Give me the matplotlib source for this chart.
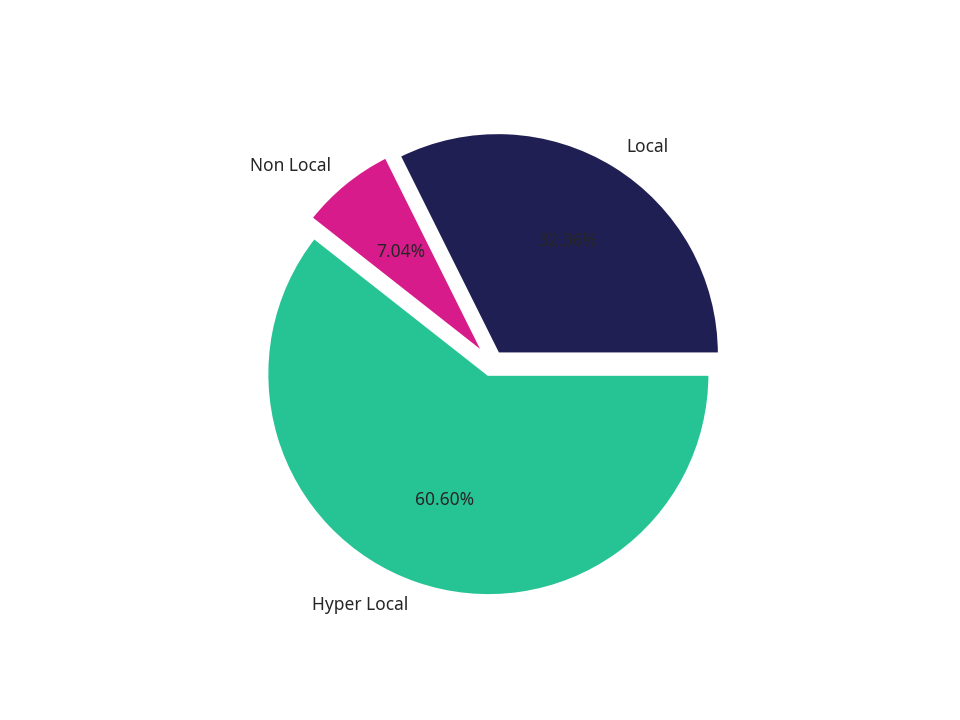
import matplotlib
matplotlib.use("Agg")
import matplotlib.pyplot as plt

labels = ["Local", "Non Local", "Hyper Local"]
values = [32.36, 7.04, 60.60]
colors = ["#1F1F53", "#D81B8A", "#26C494"]
explode = [0.05, 0.05, 0.05]

plt.rcParams['font.family'] = ['Noto Sans', 'DejaVu Sans']
plt.rcParams['font.size'] = 12.5
plt.rcParams['text.color'] = '#262626'

fig, ax = plt.subplots(figsize=(9.6, 7.2), dpi=100)
ax.pie(values, labels=labels, colors=colors, explode=explode,
       autopct='%1.2f%%', startangle=0,
       wedgeprops={'edgecolor': 'white', 'linewidth': 2.5})
ax.set_aspect('equal')
fig.savefig("out.png", dpi=100)
